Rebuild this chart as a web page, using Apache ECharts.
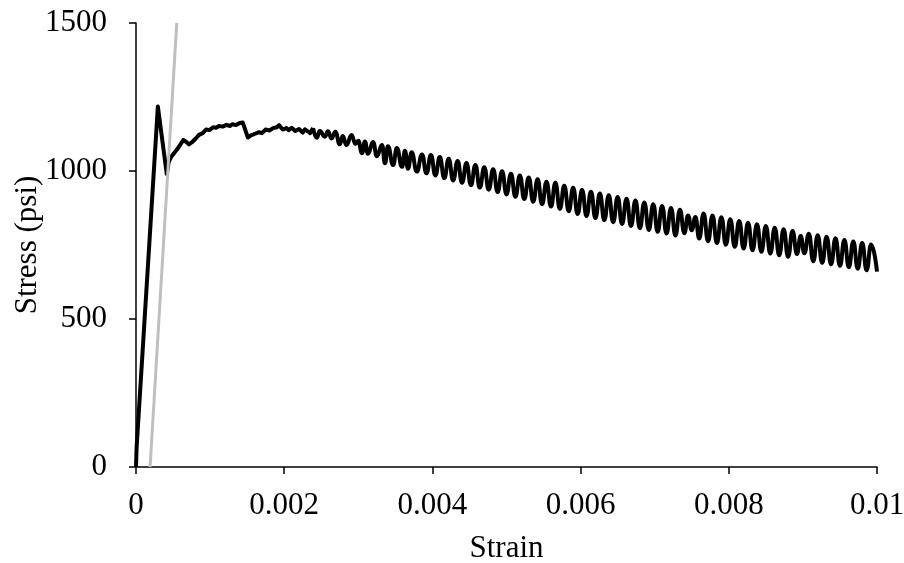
<!DOCTYPE html>
<html>
<head>
<meta charset="utf-8">
<script src="https://cdn.jsdelivr.net/npm/echarts@6/dist/echarts.min.js"></script>
<style>
html,body{margin:0;padding:0;background:#fff;}
#chart{width:904px;height:563px;}
</style>
</head>
<body>
<div id="chart"></div>
<script>
// Initial loading + yield plateau (sharp, unsmoothed)
const plateauStrain = [0, 0.000008, 0.000295, 0.000415, 0.000440, 0.000480, 0.000520, 0.000560, 0.000600, 0.000640, 0.000680, 0.000715, 0.000760, 0.000800, 0.000850, 0.000900, 0.000945, 0.000990, 0.001040, 0.001080, 0.001120, 0.001170, 0.001220, 0.001270, 0.001300, 0.001350, 0.001400, 0.001440, 0.001510, 0.001550, 0.001600, 0.001660, 0.001700, 0.001750, 0.001800, 0.001850, 0.001900, 0.001930, 0.001980, 0.002030, 0.002060, 0.002100, 0.002150, 0.002200, 0.002250, 0.002280, 0.002350, 0.002390];
const plateauStress = [0, 65, 1218, 990, 1030, 1050, 1062, 1075, 1090, 1105, 1098, 1090, 1098, 1108, 1122, 1128, 1140, 1138, 1148, 1146, 1152, 1150, 1156, 1152, 1158, 1155, 1162, 1164, 1113, 1120, 1125, 1131, 1128, 1140, 1137, 1145, 1148, 1155, 1140, 1145, 1138, 1146, 1135, 1142, 1130, 1141, 1128, 1145];

// Oscillating softening branch (peaks and troughs)
const oscStrain = [0.00239, 0.00244, 0.00248, 0.00255, 0.00259, 0.00264, 0.00269, 0.00275, 0.00279, 0.00284, 0.00291, 0.00296, 0.00300, 0.00305, 0.00309, 0.00313, 0.00320, 0.00325, 0.00332, 0.00336, 0.00340, 0.00347, 0.00352, 0.00359, 0.00363, 0.00367, 0.00372, 0.00379, 0.00386, 0.00392,
  0.00398, 0.00404, 0.00410, 0.00416, 0.00422, 0.00428, 0.00434, 0.00440, 0.00446, 0.00452, 0.00458, 0.00464, 0.00470, 0.00476, 0.00482, 0.00488, 0.00494, 0.00500,
  0.00506, 0.00512, 0.00518, 0.00524, 0.00530, 0.00536, 0.00542, 0.00548, 0.00554, 0.00560, 0.00566, 0.00572, 0.00578, 0.00584, 0.00590, 0.00596,
  0.00602, 0.00608, 0.00614, 0.00620, 0.00626, 0.00632, 0.00638, 0.00644, 0.00650, 0.00656, 0.00662, 0.00668, 0.00674, 0.00680, 0.00686, 0.00692, 0.00698,
  0.00704, 0.00710, 0.00716, 0.00722, 0.00728, 0.00734, 0.00740, 0.00745, 0.00750, 0.00755, 0.00760, 0.00766, 0.00772, 0.00778, 0.00784, 0.00790, 0.00796,
  0.00802, 0.00808, 0.00814, 0.00820, 0.00826, 0.00832, 0.00838, 0.00844, 0.00850, 0.00856, 0.00862, 0.00868, 0.00874, 0.00880, 0.00886, 0.00892, 0.00897,
  0.00902, 0.00908, 0.00914, 0.00920, 0.00926, 0.00932, 0.00938, 0.00944, 0.00950, 0.00956, 0.00962, 0.00968, 0.00974, 0.00980, 0.00986, 0.00992, 0.01000];
const oscStress = [1145, 1112, 1135, 1116, 1134, 1110, 1133, 1090, 1118, 1088, 1122, 1092, 1102, 1060, 1100, 1058, 1098, 1050, 1088, 1026, 1084, 1020, 1078, 1014, 1068, 1008, 1063, 998, 1056, 992,
  1054, 985, 1047, 976, 1041, 968, 1034, 960, 1027, 952, 1020, 944, 1013, 937, 1006, 929, 999, 921,
  991, 913, 985, 905, 978, 896, 972, 888, 964, 880, 960, 872, 950, 864, 943, 855,
  936, 848, 930, 841, 924, 834, 918, 827, 912, 821, 906, 814, 900, 807, 894, 801, 888,
  795, 882, 789, 875, 782, 869, 790, 850, 800, 845, 772, 856, 763, 850, 757, 844, 751,
  837, 744, 831, 738, 825, 732, 820, 727, 814, 721, 808, 715, 803, 710, 797, 720, 780,
  722, 788, 695, 783, 690, 778, 685, 773, 680, 767, 675, 762, 670, 757, 665, 752, 660];

// Offset line
const offsetStrain = [0.00019, 0.00055];
const offsetStress = [0, 1500];

const xTickLabels = ['0', '0.002', '0.004', '0.006', '0.008', '0.01'];
const yTickLabels = ['0', '500', '1000', '1500'];

const zip = (xs, ys) => xs.map((x, i) => [x, ys[i]]);
const FONT = '"Liberation Serif", "Times New Roman", serif';

const chart = echarts.init(document.getElementById('chart'), null, {renderer: 'canvas'});
chart.setOption({
  animation: false,
  backgroundColor: '#ffffff',
  grid: {left: 136, right: 27, top: 23, bottom: 96, containLabel: false, outerBoundsMode: 'none'},
  xAxis: {
    type: 'value', min: 0, max: 0.01, interval: 0.002,
    name: 'Strain', nameLocation: 'middle', nameGap: 66, nameMoveOverlap: false,
    nameTextStyle: {fontFamily: FONT, fontSize: 31, color: '#000'},
    axisLine: {show: true, onZero: false, lineStyle: {color: '#000', width: 1.5}},
    axisTick: {show: true, inside: false, length: 7, lineStyle: {color: '#000', width: 1.5}},
    axisLabel: {margin: 23, fontFamily: FONT, fontSize: 31, color: '#000',
      formatter: (v) => xTickLabels[Math.round(v / 0.002)]},
    splitLine: {show: false}
  },
  yAxis: {
    type: 'value', min: 0, max: 1500, interval: 500,
    name: 'Stress (psi)', nameLocation: 'middle', nameGap: 93, nameRotate: 90, nameMoveOverlap: false,
    nameTextStyle: {fontFamily: FONT, fontSize: 31, color: '#000'},
    axisLine: {show: true, onZero: false, lineStyle: {color: '#000', width: 1.5}},
    axisTick: {show: true, inside: false, length: 7, lineStyle: {color: '#000', width: 1.5}},
    axisLabel: {margin: 29, fontFamily: FONT, fontSize: 31, color: '#000',
      formatter: (v) => yTickLabels[Math.round(v / 500)]},
    splitLine: {show: false}
  },
  series: [
    {type: 'line', data: zip(plateauStrain, plateauStress), showSymbol: false, symbol: 'none',
     lineStyle: {color: '#000', width: 4, join: 'round'}, z: 2},
    {type: 'line', data: zip(oscStrain, oscStress), showSymbol: false, symbol: 'none',
     smooth: 0.5, smoothMonotone: 'x',
     lineStyle: {color: '#000', width: 4, join: 'round'}, z: 2},
    {type: 'line', data: zip(offsetStrain, offsetStress), showSymbol: false, symbol: 'none',
     lineStyle: {color: '#bfbfbf', width: 3}, z: 3}
  ]
});
</script>
</body>
</html>
